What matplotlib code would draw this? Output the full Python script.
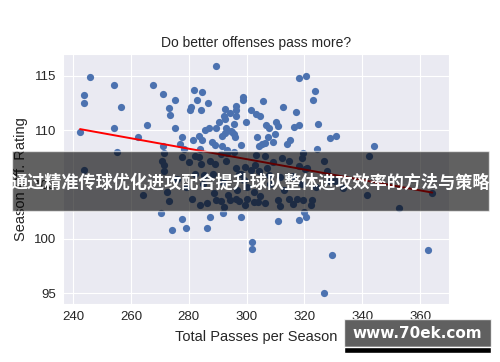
import numpy as np
import matplotlib
matplotlib.use("Agg")
import matplotlib.pyplot as plt
import seaborn as sns

# total passes per season vs offensive rating
passes = [
    289.5, 246.0, 243.6, 243.9, 242.4, 254.3, 256.6, 254.1, 267.6, 271.1,
    265.5, 262.5, 275.4, 273.3, 273.5, 275.2, 281.9, 284.6, 283.0, 286.7,
    280.7, 280.3, 284.1, 277.5, 277.0, 271.0, 271.6, 281.6, 283.7, 283.8,
    285.6, 287.0, 284.5, 288.2, 289.2, 291.4, 289.5, 290.3, 292.4, 292.3,
    292.6, 294.1, 296.4, 296.4, 296.4, 295.8, 293.0, 294.5, 292.5, 295.0,
    291.5, 295.6, 296.1, 298.1, 299.9, 298.6, 298.9, 301.5, 318.0, 320.4,
    323.7, 322.9, 305.6, 312.6, 317.1, 303.3, 304.7, 324.8, 310.2, 310.8,
    306.7, 307.8, 316.5, 318.0, 303.5, 307.5, 309.8, 309.2, 328.8, 331.0,
    313.8, 315.1, 305.3, 304.3, 306.4, 324.5, 344.1, 293.2, 278.2, 255.3,
    342.5, 243.8, 270.8, 271.5, 271.6, 272.4, 273.3, 264.1, 277.8, 280.0,
    282.1, 283.6, 284.4, 282.2, 285.3, 288.3, 287.3, 289.1, 288.7, 289.4,
    292.2, 293.5, 294.3, 291.3, 293.3, 295.5, 292.9, 296.5, 297.3, 298.2,
    299.1, 296.8, 296.3, 297.5, 299.5, 300.0, 299.5, 301.4, 303.0, 304.4,
    307.0, 309.0, 312.2, 314.5, 319.0, 319.6, 320.8, 303.3, 306.2, 326.9,
    318.0, 320.3, 327.8, 307.9, 311.6, 316.2, 328.9, 330.6, 333.5, 341.8,
    364.2, 352.6, 302.6, 304.7, 306.4, 303.8, 302.4, 311.0, 311.4, 315.9,
    322.6, 322.2, 283.9, 286.2, 281.1, 291.2, 314.7, 317.4, 319.6, 270.4,
    277.8, 274.2, 279.2, 286.4, 287.4, 291.9, 298.1, 301.7, 301.7, 310.7,
    319.7, 320.4, 318.0, 329.5, 326.6, 362.6, 285.0, 292.0, 300.0, 308.0,
    313.0, 319.0, 324.0, 279.0, 276.0,
]
rating = [
    115.9, 114.9, 113.2, 112.5, 109.8, 114.1, 112.1, 110.2, 114.1, 113.3,
    110.5, 109.4, 112.8, 112.0, 111.4, 110.2, 113.7, 113.5, 112.8, 112.5,
    112.1, 111.8, 111.8, 109.4, 108.7, 108.5, 107.9, 109.1, 109.5, 108.3,
    110.0, 110.2, 109.1, 108.9, 108.6, 108.5, 110.2, 110.7, 111.0, 111.3,
    111.9, 111.6, 112.2, 111.8, 111.3, 110.6, 110.2, 109.9, 109.7, 109.8,
    109.5, 109.6, 109.4, 108.6, 110.7, 112.8, 113.0, 111.8, 114.8, 115.0,
    113.6, 112.8, 112.7, 112.1, 111.7, 111.5, 111.3, 110.6, 110.7, 110.4,
    110.5, 110.2, 110.3, 110.5, 109.4, 109.4, 109.6, 108.9, 109.3, 109.5,
    108.7, 109.1, 108.7, 108.5, 108.8, 108.3, 108.5, 108.2, 108.3, 108.0,
    107.6, 106.3, 107.2, 106.8, 106.2, 104.3, 103.5, 104.0, 107.5, 107.1,
    107.6, 107.5, 106.9, 106.0, 105.9, 106.0, 107.2, 106.9, 104.2, 103.6,
    102.9, 104.0, 103.6, 107.8, 107.9, 108.0, 107.2, 106.5, 106.0, 106.0,
    105.4, 104.5, 103.7, 103.5, 103.1, 103.7, 106.6, 106.3, 106.8, 106.2,
    106.5, 107.1, 107.4, 107.2, 107.4, 107.9, 106.5, 107.7, 107.6, 107.2,
    106.7, 106.4, 106.2, 105.9, 105.7, 105.8, 105.3, 105.3, 104.7, 104.0,
    104.2, 102.8, 104.3, 103.9, 103.3, 103.4, 103.4, 103.6, 103.0, 103.2,
    103.6, 103.1, 103.1, 103.3, 103.7, 103.5, 103.7, 103.7, 103.6, 102.4,
    101.8, 100.8, 101.0, 101.0, 102.0, 102.4, 102.0, 99.7, 99.1, 101.6,
    102.5, 102.0, 101.7, 98.5, 95.0, 99.0, 105.0, 105.2, 104.8, 105.0,
    104.5, 105.0, 104.8, 104.8, 105.5,
]
x_ticks = [240, 260, 280, 300, 320, 340, 360]
y_ticks = [95, 100, 105, 110, 115]
banner_text = "通过精准传球优化进攻配合提升球队整体进攻效率的方法与策略"
watermark = "www.70ek.com"

sns.set_style("darkgrid")
plt.rcParams['font.family'] = ['Liberation Sans', 'DejaVu Sans']

fig = plt.figure(figsize=(5, 3.62), dpi=100)
ax = fig.add_axes([0.126, 0.160, 0.772, 0.691])

x = np.array(passes)
y = np.array(rating)
ax.scatter(x, y, s=27, color="#4c72b0", linewidths=0, zorder=3)

# least squares line over the data range
slope, intercept = np.polyfit(x, y, 1)
xl = np.array([x.min(), x.max()])
ax.plot(xl, slope * xl + intercept, color="red", lw=1.4, zorder=4)

ax.set_xlim(236.5, 370)
ax.set_ylim(94.0, 117.0)
ax.set_xticks(x_ticks)
ax.set_yticks(y_ticks)
ax.tick_params(labelsize=9.5, colors="#262626", length=0, pad=5)
ax.set_title("Do better offenses pass more?", fontsize=10, color="#262626", pad=5)
ax.set_xlabel("Total Passes per Season", fontsize=10.5, color="#262626", labelpad=5)
ax.set_ylabel("Season Off. Rating", fontsize=10.5, color="#262626")

# dark banner across the middle
fig.patches.append(plt.Rectangle((12 / 500, 1 - 211 / 362), 477 / 500, 60 / 362,
                                 transform=fig.transFigure, facecolor="black",
                                 alpha=0.62, zorder=10))
fig.text(250 / 500, 1 - 183 / 362, banner_text, ha="center", va="center",
         fontsize=12.3, color="white", weight="bold",
         family=["Noto Sans CJK SC", "DejaVu Sans"], zorder=11)

# watermark box bottom right
fig.patches.append(plt.Rectangle((344 / 500, 1 - 347 / 362), 147 / 500, 28 / 362,
                                 transform=fig.transFigure, facecolor="#333333",
                                 alpha=0.78, zorder=10))
fig.patches.append(plt.Rectangle((344 / 500, 1 - 353 / 362), 147 / 500, 6 / 362,
                                 transform=fig.transFigure, facecolor="black",
                                 zorder=10))
fig.text(417 / 500, 1 - 334 / 362, watermark, ha="center", va="center",
         fontsize=11, color="white", weight="bold",
         family=["DejaVu Sans"], zorder=11)

plt.savefig("out.png", dpi=100)
plt.close()
